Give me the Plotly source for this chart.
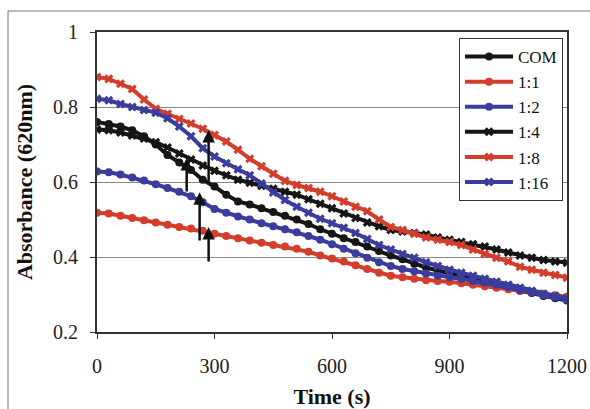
import plotly.graph_objects as go

time_s = list(range(0, 1201, 30))

com = [0.760, 0.755, 0.748, 0.738, 0.722, 0.700, 0.672, 0.652, 0.632, 0.606, 0.588,
       0.566, 0.548, 0.540, 0.530, 0.520, 0.510, 0.500, 0.488, 0.474, 0.462,
       0.450, 0.440, 0.428, 0.416, 0.404, 0.394, 0.382, 0.372, 0.364, 0.356,
       0.348, 0.340, 0.334, 0.326, 0.318, 0.310, 0.304, 0.296, 0.290, 0.284]
r1_1 = [0.518, 0.516, 0.510, 0.504, 0.498, 0.492, 0.486, 0.480, 0.476, 0.470, 0.462,
        0.456, 0.450, 0.444, 0.438, 0.432, 0.428, 0.422, 0.414, 0.404, 0.396,
        0.388, 0.378, 0.368, 0.358, 0.350, 0.346, 0.342, 0.338, 0.336, 0.334,
        0.330, 0.326, 0.322, 0.318, 0.314, 0.310, 0.306, 0.302, 0.298, 0.294]
r1_2 = [0.628, 0.626, 0.620, 0.612, 0.604, 0.594, 0.584, 0.574, 0.562, 0.546, 0.528,
        0.518, 0.508, 0.500, 0.490, 0.482, 0.474, 0.466, 0.456, 0.446, 0.434,
        0.422, 0.410, 0.398, 0.386, 0.376, 0.368, 0.362, 0.356, 0.350, 0.346,
        0.342, 0.336, 0.332, 0.326, 0.320, 0.312, 0.306, 0.298, 0.292, 0.286]
r1_4 = [0.740, 0.738, 0.732, 0.724, 0.716, 0.706, 0.692, 0.676, 0.660, 0.644, 0.630,
        0.618, 0.606, 0.598, 0.590, 0.582, 0.574, 0.566, 0.554, 0.542, 0.530,
        0.516, 0.504, 0.492, 0.482, 0.472, 0.468, 0.464, 0.460, 0.452, 0.446,
        0.440, 0.434, 0.428, 0.420, 0.412, 0.404, 0.398, 0.392, 0.388, 0.385]
r1_8 = [0.880, 0.875, 0.862, 0.848, 0.820, 0.795, 0.782, 0.768, 0.756, 0.742, 0.725,
        0.708, 0.686, 0.662, 0.642, 0.622, 0.603, 0.592, 0.584, 0.574, 0.562,
        0.548, 0.534, 0.522, 0.500, 0.480, 0.472, 0.462, 0.452, 0.446, 0.440,
        0.432, 0.420, 0.408, 0.398, 0.388, 0.374, 0.366, 0.358, 0.352, 0.345]
r1_16 = [0.822, 0.818, 0.808, 0.800, 0.792, 0.785, 0.770, 0.748, 0.722, 0.690, 0.668,
         0.650, 0.634, 0.618, 0.596, 0.572, 0.552, 0.534, 0.518, 0.502, 0.490,
         0.478, 0.464, 0.448, 0.432, 0.420, 0.408, 0.398, 0.386, 0.376, 0.366,
         0.358, 0.350, 0.342, 0.334, 0.326, 0.318, 0.310, 0.302, 0.296, 0.290]

series_names = ["COM", "1:1", "1:2", "1:4", "1:8", "1:16"]
series_values = [com, r1_1, r1_2, r1_4, r1_8, r1_16]

# arrows: (x, head y, tail y)
arrow_x = [229, 262, 285, 285]
arrow_head = [0.664, 0.573, 0.480, 0.739]
arrow_tail = [0.571, 0.440, 0.384, 0.597]

BLACK = "#151515"
RED = "#d43d2c"
BLUE = "#3b3d9e"
colors = [BLACK, RED, BLUE, BLACK, RED, BLUE]
symbols = ["circle", "circle", "circle", "x", "x", "x"]

fig = go.Figure()
for i, (name, vals) in enumerate(zip(series_names, series_values)):
    fig.add_trace(go.Scatter(
        x=time_s, y=vals, name=name, mode="lines+markers",
        line=dict(color=colors[i], width=4),
        marker=dict(symbol=symbols[i], size=8, color=colors[i]),
    ))

for x, h, t in zip(arrow_x, arrow_head, arrow_tail):
    fig.add_annotation(x=x, y=h, ax=x, ay=t, xref="x", yref="y", axref="x", ayref="y",
                       showarrow=True, arrowhead=2, arrowsize=1, arrowwidth=2.5,
                       arrowcolor="#111111", text="")

# outer frame
fig.add_shape(type="rect", xref="paper", yref="paper",
              x0=(8 - 97) / 470, x1=1.2, y0=-0.4, y1=(332 - 11) / 300,
              line=dict(color="#777777", width=1), layer="below")

serif = "Liberation Serif"
fig.update_layout(
    width=590, height=409,
    margin=dict(l=97, r=23, t=32, b=77, autoexpand=False),
    paper_bgcolor="white", plot_bgcolor="white",
    font=dict(family=serif, color="#222222"),
    showlegend=True,
    legend=dict(x=(459 - 97) / 470, y=(332 - 38) / 300, xanchor="left", yanchor="top",
                bgcolor="white", bordercolor="#333333", borderwidth=1,
                font=dict(size=17, family=serif, color="#111111"),
                itemwidth=48, tracegroupgap=0),
    xaxis=dict(range=[0, 1200], dtick=300, tick0=0, showgrid=False, zeroline=False,
               automargin=False,
               showline=True, linecolor="#333333", linewidth=2, mirror=True,
               ticks="outside", ticklen=5, tickcolor="#333333",
               tickfont=dict(size=20, family=serif, color="#222222"),
               ticklabelstandoff=10,
               title=dict(text="<b>Time (s)</b>", font=dict(size=22, family=serif, color="#111111"),
                          standoff=17)),
    yaxis=dict(range=[0.2, 1], dtick=0.2, tick0=0.2, showgrid=True, gridcolor="#888888",
               gridwidth=1, zeroline=False, automargin=False,
               showline=True, linecolor="#333333", linewidth=2, mirror=True,
               ticks="outside", ticklen=5, tickcolor="#333333",
               tickfont=dict(size=20, family=serif, color="#222222"),
               ticklabelstandoff=8,
               title=dict(text="<b>Absorbance (620nm)</b>", font=dict(size=22, family=serif, color="#111111"),
                          standoff=14)),
)

fig.write_html("out.html")
